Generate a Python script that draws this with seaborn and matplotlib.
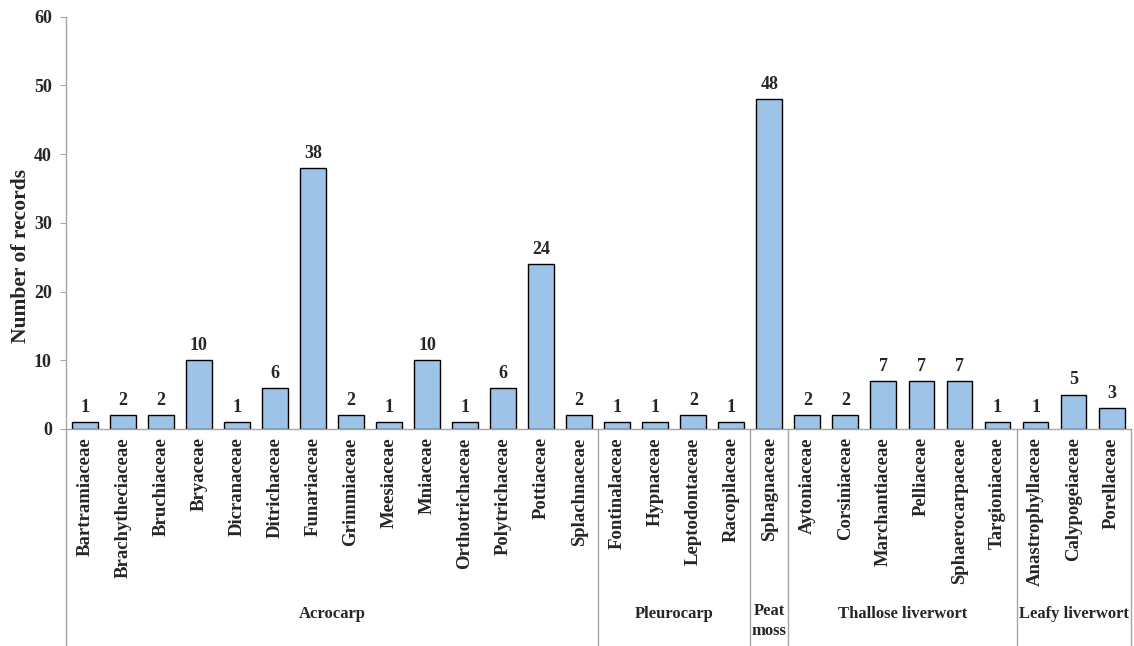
import numpy as np
import pandas as pd
import matplotlib.pyplot as plt
import seaborn as sns
from matplotlib import transforms

# data
families = ['Bartramiaceae', 'Brachytheciaceae', 'Bruchiaceae', 'Bryaceae', 'Dicranaceae',
            'Ditrichaceae', 'Funariaceae', 'Grimmiaceae', 'Meesiaceae', 'Mniaceae',
            'Orthotrichaceae', 'Polytrichaceae', 'Pottiaceae', 'Splachnaceae',
            'Fontinalaceae', 'Hypnaceae', 'Leptodontaceae', 'Racopilaceae',
            'Sphagnaceae',
            'Aytoniaceae', 'Corsiniaceae', 'Marchantiaceae', 'Pelliaceae',
            'Sphaerocarpaceae', 'Targioniaceae',
            'Anastrophyllaceae', 'Calypogeiaceae', 'Porellaceae']
records = [1, 2, 2, 10, 1, 6, 38, 2, 1, 10, 1, 6, 24, 2,
           1, 1, 2, 1,
           48,
           2, 2, 7, 7, 7, 1,
           1, 5, 3]
groups = ['Acrocarp', 'Pleurocarp', 'Peat\nmoss', 'Thallose liverwort', 'Leafy liverwort']
group_sizes = [14, 4, 1, 6, 3]

df = pd.DataFrame({'family': families, 'records': records})

sns.set_style('white')
plt.rcParams['font.family'] = ['Liberation Serif', 'DejaVu Serif']
plt.rcParams['font.weight'] = 'bold'

fig = plt.figure(figsize=(11.34, 6.46), dpi=100)
ax = fig.add_axes([0.058, 0.336, 0.939, 0.638])

sns.barplot(data=df, x='family', y='records', color='#9DC3E6', edgecolor='black',
            linewidth=1.0, width=0.68, saturation=1, ax=ax)

# value labels on top of bars
for i, v in enumerate(records):
    ax.text(i, v + 0.9, str(v), ha='center', va='bottom', fontsize=13, fontweight='bold')

ax.set_xlim(-0.5, len(families) - 0.5)
ax.set_ylim(0, 60)
ax.set_yticks(range(0, 61, 10))
ax.tick_params(axis='y', labelsize=13, length=4, color='#A6A6A6', direction='out', pad=6, left=True)
for lab in ax.get_yticklabels():
    lab.set_fontweight('bold')
ax.set_ylabel('Number of records', fontsize=15.5, fontweight='bold', labelpad=1)
ax.yaxis.set_label_coords(-0.033, 0.42)
ax.set_xlabel('')

ax.set_xticks(range(len(families)))
ax.set_xticklabels(families, rotation=90, fontsize=13.5, fontweight='bold', va='top', ha='center')
ax.tick_params(axis='x', length=0, pad=6)

for side in ['top', 'right']:
    ax.spines[side].set_visible(False)
for side in ['left', 'bottom']:
    ax.spines[side].set_color('#A6A6A6')
    ax.spines[side].set_linewidth(1.0)

# multi-level category axis: separators and group names
trans = transforms.blended_transform_factory(ax.transData, ax.transAxes)
ax_h = 0.638 * 646
bottom = -(646 * 0.336) / ax_h
edges = np.concatenate([[0], np.cumsum(group_sizes)]) - 0.5
for e in edges:
    ax.plot([e, e], [0, bottom], transform=trans, color='#A6A6A6', lw=1.0, clip_on=False)
for g, lo, hi in zip(groups, edges[:-1], edges[1:]):
    if '\n' in g:
        ax.text((lo + hi) / 2, -(603 - 429) / ax_h, g, transform=trans, ha='center', va='top',
                fontsize=12, fontweight='bold', linespacing=1.3)
    else:
        ax.text((lo + hi) / 2, -(614 - 429) / ax_h, g, transform=trans, ha='center', va='center',
                fontsize=12, fontweight='bold')

fig.savefig('out.png', dpi=100)
